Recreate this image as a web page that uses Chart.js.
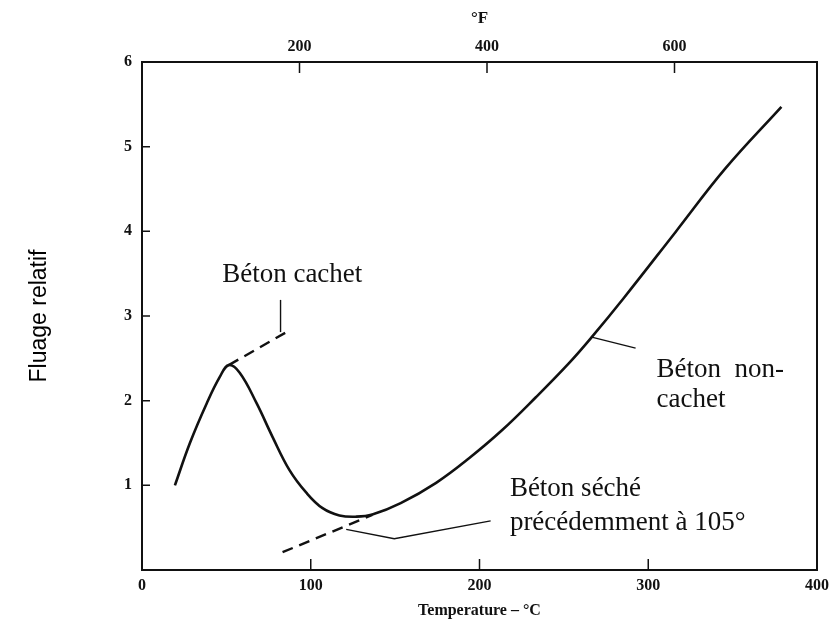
<!DOCTYPE html>
<html>
<head>
<meta charset="utf-8">
<script src="https://cdn.jsdelivr.net/npm/chart.js@4.4.1/dist/chart.umd.min.js"></script>
<style>
  html, body { margin: 0; padding: 0; background: #fff; }
  #wrap { width: 835px; height: 620px; }
</style>
</head>
<body>
<div id="wrap"><canvas id="creepChart" width="835" height="620"></canvas></div>
<script>
// axis ticks
const celsiusTicks = [0, 100, 200, 300, 400];
const fahrenheitTicks = [200, 400, 600];
const creepTicks = [1, 2, 3, 4, 5, 6];

// sealed / unsealed concrete: one continuous curve (°C, relative creep)
const mainTemp  = [19.5, 28.4, 38.4, 46.1, 51.4, 57.9, 67.9, 77.4, 87.4, 97.5, 107, 117, 127, 136.5, 153.3, 174.3, 193.8, 213.3, 233.4, 252.9, 266.5, 285.4, 316.1, 345.6, 378.9];
const mainCreep = [1.00, 1.50, 1.97, 2.28, 2.42, 2.33, 1.97, 1.57, 1.18, 0.91, 0.73, 0.645, 0.63, 0.655, 0.79, 1.03, 1.32, 1.65, 2.04, 2.44, 2.75, 3.21, 3.99, 4.74, 5.47];

// dashed extension of the sealed branch
const sealedDashTemp  = [51.4, 87.4];
const sealedDashCreep = [2.42, 2.83];

// dashed line for concrete dried beforehand at 105°
const driedTemp  = [83.3, 136.5];
const driedCreep = [0.21, 0.65];

// leader lines from labels to curves
const sealedLeaderTemp  = [82.1, 82.1];
const sealedLeaderCreep = [2.81, 3.19];
const unsealedLeaderTemp  = [266.5, 292.5];
const unsealedLeaderCreep = [2.75, 2.62];
const driedLeaderTemp  = [121, 149.5, 206.6];
const driedLeaderCreep = [0.48, 0.37, 0.58];

// curve labels: text, °C, creep at baseline
const labelTexts = ['Béton cachet', 'Béton  non-', 'cachet', 'Béton séché', 'précédemment à 105°'];
const labelTemp  = [47.5, 304.9, 304.9, 218, 218];
const labelCreep = [3.40, 2.28, 1.92, 0.87, 0.47];

const toPoints = (xs, ys) => xs.map((x, i) => ({ x: x, y: ys[i] }));

const ink = '#111';
const serif = '"Liberation Serif", "DejaVu Serif", serif';
const tickFont = { family: serif, size: 16, weight: 'bold' };

function curve(xs, ys, extra) {
  return Object.assign({
    data: toPoints(xs, ys),
    borderColor: ink,
    borderWidth: 2.4,
    pointRadius: 0,
    fill: false,
    tension: 0
  }, extra);
}

const frameAndTicks = {
  id: 'frameAndTicks',
  afterDraw(chart) {
    const { ctx, chartArea: a, scales } = chart;
    ctx.save();
    ctx.strokeStyle = ink;
    ctx.lineWidth = 2;
    ctx.strokeRect(a.left, a.top, a.right - a.left, a.bottom - a.top);

    ctx.lineWidth = 1.5;
    ctx.beginPath();
    celsiusTicks.slice(1, -1).forEach(v => {
      const x = scales.x.getPixelForValue(v);
      ctx.moveTo(x, a.bottom);
      ctx.lineTo(x, a.bottom - 11);
    });
    fahrenheitTicks.forEach(v => {
      const x = scales.xF.getPixelForValue(v);
      ctx.moveTo(x, a.top);
      ctx.lineTo(x, a.top + 11);
    });
    creepTicks.slice(0, -1).forEach(v => {
      const y = scales.y.getPixelForValue(v);
      ctx.moveTo(a.left, y);
      ctx.lineTo(a.left + 8, y);
    });
    ctx.stroke();

    // curve labels
    ctx.fillStyle = ink;
    ctx.font = '27px ' + serif;
    ctx.textBaseline = 'alphabetic';
    ctx.textAlign = 'left';
    labelTexts.forEach((t, i) => {
      ctx.fillText(t, scales.x.getPixelForValue(labelTemp[i]), scales.y.getPixelForValue(labelCreep[i]));
    });
    ctx.restore();
  }
};

new Chart(document.getElementById('creepChart'), {
  type: 'line',
  data: {
    datasets: [
      curve(mainTemp, mainCreep, { tension: 0.4, borderWidth: 2.6 }),
      curve(sealedDashTemp, sealedDashCreep, { borderDash: [11, 7] }),
      curve(driedTemp, driedCreep, { borderDash: [11, 7] }),
      curve(sealedLeaderTemp, sealedLeaderCreep, { borderWidth: 1.4 }),
      curve(unsealedLeaderTemp, unsealedLeaderCreep, { borderWidth: 1.4 }),
      curve(driedLeaderTemp, driedLeaderCreep, { borderWidth: 1.4 })
    ]
  },
  options: {
    responsive: false,
    animation: false,
    layout: { padding: { left: 0, right: 16, top: 0, bottom: 0 } },
    plugins: {
      legend: { display: false },
      tooltip: { enabled: false }
    },
    scales: {
      x: {
        type: 'linear',
        position: 'bottom',
        min: 0,
        max: 400,
        afterBuildTicks: s => { s.ticks = celsiusTicks.map(v => ({ value: v })); },
        afterFit: s => { s.height = 50; },
        grid: { display: false, drawTicks: false },
        border: { display: false },
        ticks: { font: tickFont, color: ink, padding: 6, maxRotation: 0 },
        title: {
          display: true,
          text: 'Temperature – °C',
          color: ink,
          font: { family: serif, size: 16, weight: 'bold' },
          padding: { top: 0, bottom: 0 }
        }
      },
      xF: {
        type: 'linear',
        position: 'top',
        min: 32,
        max: 752,
        afterBuildTicks: s => { s.ticks = fahrenheitTicks.map(v => ({ value: v })); },
        afterFit: s => { s.height = 62; },
        grid: { display: false, drawTicks: false },
        border: { display: false },
        ticks: { font: tickFont, color: ink, padding: 6, maxRotation: 0 },
        title: {
          display: true,
          text: '°F',
          color: ink,
          font: { family: serif, size: 17, weight: 'bold' },
          padding: { top: 8, bottom: 0 }
        }
      },
      y: {
        type: 'linear',
        min: 0,
        max: 6,
        afterBuildTicks: s => { s.ticks = creepTicks.map(v => ({ value: v })); },
        afterFit: s => { s.width = 142; },
        grid: { display: false, drawTicks: false },
        border: { display: false },
        ticks: { font: tickFont, color: ink, padding: 10 },
        title: {
          display: true,
          text: 'Fluage relatif',
          color: '#000',
          font: { family: '"Liberation Sans", Arial, sans-serif', size: 23 },
          padding: { top: 26, bottom: 0 }
        }
      }
    }
  },
  plugins: [frameAndTicks]
});
</script>
</body>
</html>
